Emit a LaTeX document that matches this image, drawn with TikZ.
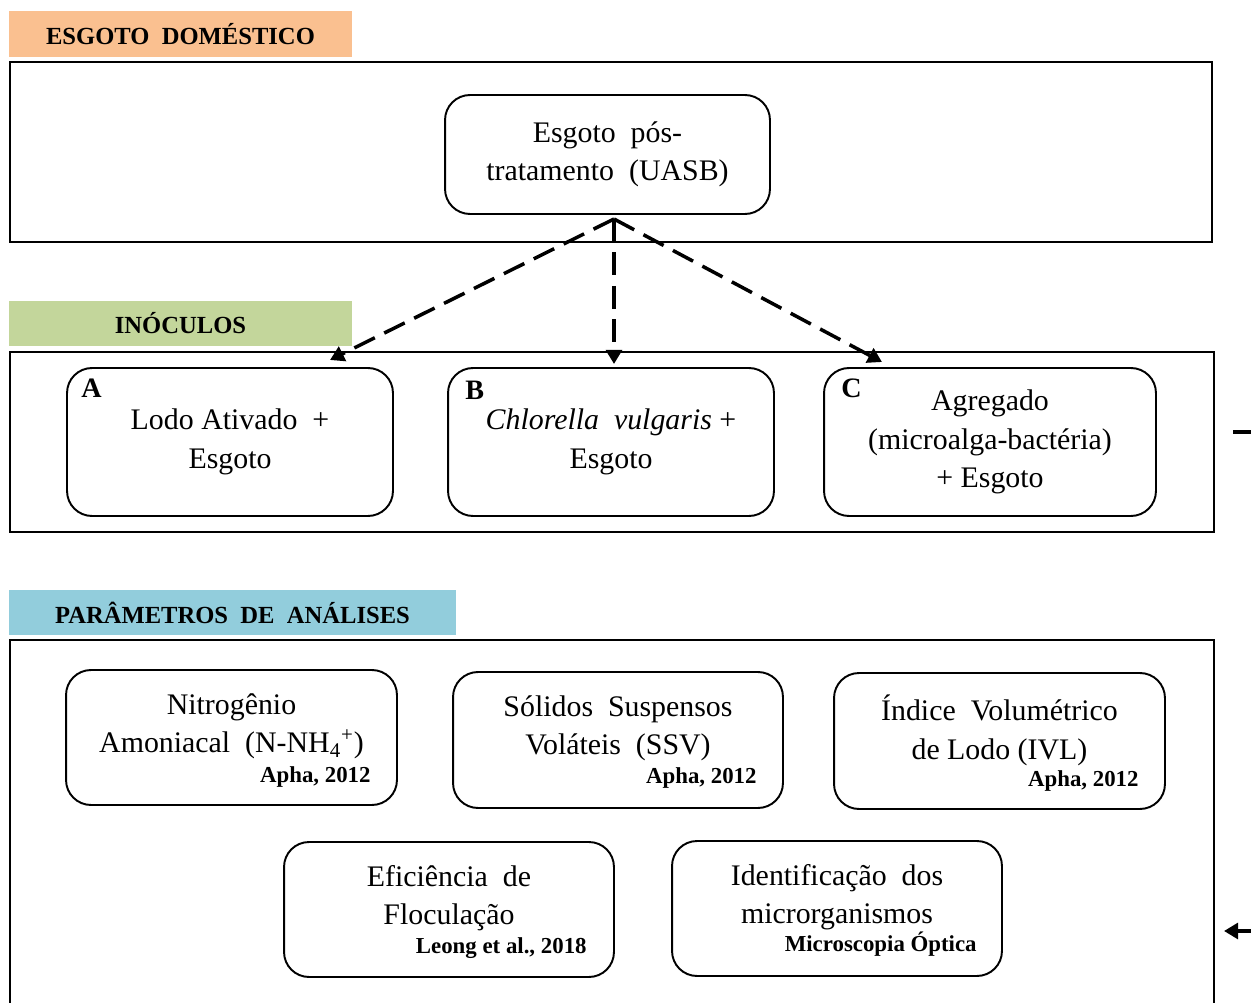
\documentclass[tikz,border=0pt]{standalone}
\usepackage{fontspec}
\setmainfont{Liberation Serif}
\usetikzlibrary{arrows.meta}
\definecolor{tagorange}{HTML}{FAC090}
\definecolor{taggreen}{HTML}{C3D69B}
\definecolor{tagblue}{HTML}{92CDDC}
\begin{document}
\begin{tikzpicture}[x=0.02cm,y=-0.02cm]
        \tikzstyle{frame_style} = [draw=black,line width=1.1pt]
        \tikzstyle{tag_style} = [minimum height=0.91cm,inner sep=0pt,font=\fontsize{14}{16}\selectfont\bfseries]
        \tikzstyle{box_style} = [draw=black,line width=1.1pt,rounded corners=0.5cm,align=center,inner sep=0pt,font=\fontsize{17}{21.8}\selectfont]
        \tikzstyle{text_style} = [align=center,inner sep=0pt,font=\fontsize{17}{21.8}\selectfont]
        \tikzstyle{cite_style} = [anchor=base east,inner sep=0pt,font=\fontsize{13}{15}\selectfont\bfseries]
        \tikzstyle{letter_style} = [anchor=base west,inner sep=0pt,font=\fontsize{16}{19}\selectfont\bfseries]
        \tikzstyle{edge_style} = [draw=black,line width=2pt,dash pattern=on 13pt off 6pt,-{Triangle[length=8pt,width=9pt]}]
        \clip (0,0) rectangle (1251,1003);
        \useasboundingbox (0,0) rectangle (1251,1003);
        % frames
        \draw[frame_style] (10,62) rectangle (1212,242);
        \draw[frame_style] (10,352) rectangle (1214,532);
        \draw[frame_style] (10,640) rectangle (1214,1020);
        % tags
        \node[tag_style,fill=tagorange,minimum width=6.86cm] (t1) at (180.5,34) {ESGOTO\ \ DOMÉSTICO};
        \node[tag_style,fill=taggreen,minimum width=6.86cm] (t2) at (180.5,323.5) {INÓCULOS};
        \node[tag_style,fill=tagblue,minimum width=8.94cm] (t3) at (232.5,612.5) {PARÂMETROS\ \ DE\ \ ANÁLISES};
        % esgoto
        \node[box_style,minimum width=6.5cm,minimum height=2.38cm] (top) at (607.5,154.5) {Esgoto\ \ pós-\\tratamento\ \ (UASB)};
        % inoculos
        \node[box_style,minimum width=6.52cm,minimum height=2.96cm] (a) at (230,442) {Lodo Ativado\ \ +\\Esgoto};
        \node[box_style,minimum width=6.52cm,minimum height=2.96cm] (b) at (611,442) {\textit{Chlorella\ \ vulgaris} +\\Esgoto};
        \node[box_style,minimum width=6.64cm,minimum height=2.96cm] (c) at (990,442) {Agregado\\(microalga-bactéria)\\+ Esgoto};
        \node[letter_style] (la) at ([xshift=0.3cm,yshift=-0.6cm]a.north west) {A};
        \node[letter_style] (lb) at ([xshift=0.36cm,yshift=-0.64cm]b.north west) {B};
        \node[letter_style] (lc) at ([xshift=0.36cm,yshift=-0.6cm]c.north west) {C};
        % parametros
        \node[box_style,minimum width=6.62cm,minimum height=2.7cm] (p1) at (231.5,737.5) {};
        \node[box_style,minimum width=6.6cm,minimum height=2.72cm] (p2) at (618,740) {};
        \node[box_style,minimum width=6.62cm,minimum height=2.72cm] (p3) at (999.5,741) {};
        \node[box_style,minimum width=6.6cm,minimum height=2.7cm] (p4) at (449,909.5) {};
        \node[box_style,minimum width=6.6cm,minimum height=2.7cm] (p5) at (837,908.5) {};
        \node[text_style] (p1t) at ([yshift=0.22cm]p1.center) {Nitrogênio\\Amoniacal\ \ (N-NH\textsubscript{4}\textsuperscript{+})};
        \node[text_style] (p2t) at ([yshift=0.23cm]p2.center) {Sólidos\ \ Suspensos\\Voláteis\ \ (SSV)};
        \node[text_style] (p3t) at ([yshift=0.21cm]p3.center) {Índice\ \ Volumétrico\\de Lodo (IVL)};
        \node[text_style] (p4t) at ([yshift=0.22cm]p4.center) {Eficiência\ \ de\\Floculação};
        \node[text_style] (p5t) at ([yshift=0.22cm]p5.center) {Identificação\ \ dos\\microrganismos};
        \node[cite_style] (p1c) at ([xshift=-0.54cm,yshift=0.46cm]p1.south east) {Apha, 2012};
        \node[cite_style] (p2c) at ([xshift=-0.54cm,yshift=0.5cm]p2.south east) {Apha, 2012};
        \node[cite_style] (p3c) at ([xshift=-0.54cm,yshift=0.46cm]p3.south east) {Apha, 2012};
        \node[cite_style] (p4c) at ([xshift=-0.56cm,yshift=0.48cm]p4.south east) {Leong et al., 2018};
        \node[cite_style] (p5c) at ([xshift=-0.52cm,yshift=0.5cm]p5.south east) {Microscopia Óptica};
        % arrows
        \coordinate (src) at (614,219);
        \coordinate (ea) at (330,360);
        \coordinate (eb) at (614,364);
        \coordinate (ec) at (882,362);
        \draw[edge_style] (src) -- (ea);
        \draw[edge_style] (src) -- (eb);
        \draw[edge_style] (src) -- (ec);
        % right edge
        \coordinate (r1) at (1233,432);
        \coordinate (r1b) at (1262,432);
        \coordinate (r2) at (1224,931);
        \coordinate (r2b) at (1262,931);
        \draw[line width=2pt] (r1) -- (r1b);
        \draw[line width=2pt,-{Triangle[length=8pt,width=9pt]}] (r2b) -- (r2);
      \end{tikzpicture}
\end{document}
